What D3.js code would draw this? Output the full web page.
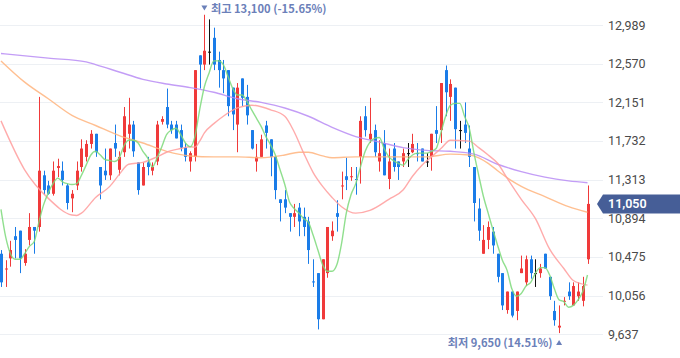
<!DOCTYPE html>
<html><head><meta charset="utf-8">
<script src="https://cdn.jsdelivr.net/npm/d3@7"></script>
<style>body{margin:0;background:#fff;} svg{display:block;}</style>
</head><body><svg id="c" width="680" height="358"></svg>
<script>
const opens = [10510,10340,10460,10700,10760,10410,10660,10800,10800,11360,
11250,11160,11440,11410,11250,11110,11250,11450,11560,11700,
11810,11450,11410,11360,11710,11420,11610,11810,11910,11500,
11250,11500,11410,11510,11940,12100,11910,11910,11850,11660,
11510,11560,12660,12560,12700,12850,12610,12500,12500,12310,
11910,12410,12210,11850,11510,11560,11900,11750,11560,11100,
11100,10950,10910,11010,10910,10860,10210,10300,9800,10300,
10700,10950,11240,11350,11340,11320,11560,12000,11750,11850,
11510,11710,11320,11650,11510,11510,11600,11610,11600,11650,
11510,11560,11850,11850,12500,12210,12310,11850,11910,11650,
11450,11000,10510,10660,10750,10510,10300,9900,10100,9890,
10300,10200,10450,10300,10300,10510,10260,9890,9710,9990,
10100,9950,10050,10000,10450];
const highs = [10550,10440,10650,10800,10760,10560,10950,10800,12210,11410,
11300,11510,11540,11510,11270,11200,11510,11750,11740,11850,
11810,11450,11650,11650,11910,11620,12100,12200,11950,11500,
11500,11560,11500,11950,12000,12300,11950,11950,11910,11710,
11620,12500,12660,13100,13050,12960,12700,12610,12500,12310,
12360,12410,12340,11850,11700,11800,11950,11750,11560,11100,
11200,10950,11050,11060,11010,10910,10450,10300,10450,10800,
10860,11090,11400,11550,11450,11450,12000,12110,12200,11910,
11740,11850,11650,11710,11510,11650,11710,11810,11710,11650,
11600,11810,12110,12360,12550,12400,12310,11950,12150,11900,
11450,11110,10820,10860,10800,10510,10300,10100,10100,10100,
10490,10490,10490,10450,10400,10510,10260,10000,9950,10040,
10200,10200,10200,10260,11250];
const lows = [10150,10150,10370,10460,10300,10380,10600,10510,10750,11150,
11150,11140,11340,11250,10990,10960,11200,11400,11510,11650,
11560,11100,11310,11310,11560,11360,11560,11650,11560,11150,
11250,11360,11360,11470,11910,11870,11810,11760,11620,11510,
11400,11510,12300,12500,12560,12500,12310,12250,12000,11850,
11610,12110,11910,11640,11400,11560,11650,11350,11100,10860,
10950,10750,10800,10700,10700,10400,10150,9690,9800,10250,
10650,10750,11100,11200,11300,11150,11270,11780,11710,11560,
11400,11360,11210,11400,11310,11450,11450,11600,11510,11510,
11450,11410,11710,11710,12000,11950,11650,11650,11710,11450,
10860,10650,10510,10560,10510,10200,9900,9860,9820,9790,
10300,10160,10240,10150,10250,10350,10010,9730,9650,9950,
10010,9950,10000,9940,10400];
const closes = [10200,10350,10550,10660,10460,10510,10800,10760,11410,11200,
11160,11410,11460,11310,11060,11160,11410,11650,11700,11810,
11610,11250,11360,11650,11650,11560,12000,11910,11620,11200,
11450,11450,11450,11910,11970,11910,11850,11760,11660,11560,
11600,12500,12560,12710,12700,12560,12500,12410,12110,12020,
12310,12200,12010,11650,11560,11750,11820,11560,11200,11060,
11010,10910,10950,10860,10800,10550,10200,9800,10450,10800,
10760,10910,11250,11310,11350,11310,11950,11850,11810,11610,
11600,11360,11510,11450,11450,11600,11600,11700,11590,11510,
11510,11810,11810,12360,12260,12350,11860,11850,11820,11560,
11060,10760,10660,10800,10600,10260,9950,10100,9840,10100,
10350,10450,10300,10300,10350,10350,10050,9790,9730,10000,
10050,10160,10100,10160,11050];

// moving averages
const ma5 = [10990,10690,10510,10450,10450,10510,10590,10640,10850,11040,
11170,11270,11330,11290,11270,11260,11270,11360,11470,11580,
11620,11580,11530,11520,11510,11550,11680,11740,11740,11710,
11620,11550,11450,11550,11670,11800,11850,11870,11800,11710,
11670,11780,12070,12320,12470,12600,12600,12560,12430,12300,
12230,12230,12160,12070,11980,11890,11780,11690,11580,11420,
11260,11070,11000,10950,10890,10850,10710,10550,10390,10320,
10320,10390,10620,10950,11150,11270,11450,11620,11720,11760,
11770,11650,11560,11520,11490,11470,11530,11580,11600,11600,
11600,11620,11650,11820,12000,12120,12140,12140,12000,11870,
11600,11360,11130,10950,10770,10600,10440,10330,10130,10050,
10080,10160,10200,10300,10360,10360,10280,10130,10010,9990,
9930,9950,10010,10100,10280];
const ma20 = [[0,11950],[5,11420],[10,11110],[15,10930],[16,10925],[17,10950],[20,11120],[23,11240],[25,11370],[27,11480],[30,11500],[33,11560],[35,11610],[38,11650],[40,11670],[41,11665],[42,11730],[43,11820],[45,11920],[47,12000],[50,12090],[53,12120],[57,12070],[60,12000],[62,11830],[64,11600],[66,11390],[68,11240],[70,11120],[72,11020],[75,10950],[78,10980],[82,11100],[85,11200],[87,11350],[89,11470],[91,11560],[93,11650],[95,11740],[99,11730],[101,11660],[103,11580],[105,11490],[107,11330],[110,11100],[113,10890],[116,10560],[119,10350],[121,10220],[124,10170]];
const ma60 = [[0,12600],[5,12370],[10,12190],[15,12010],[20,11900],[25,11790],[30,11710],[35,11620],[40,11570],[45,11560],[50,11560],[55,11550],[60,11580],[63,11610],[65,11610],[68,11570],[70,11550],[75,11560],[80,11560],[85,11560],[90,11560],[95,11590],[99,11580],[101,11550],[103,11490],[105,11410],[108,11300],[110,11240],[115,11130],[120,11020],[124,10960]];
const ma120 = [[0,12680],[10,12630],[18,12590],[20,12560],[25,12480],[30,12400],[35,12350],[40,12310],[45,12260],[50,12190],[55,12150],[60,12090],[65,12000],[70,11880],[75,11780],[80,11720],[85,11660],[90,11630],[95,11620],[100,11590],[105,11480],[110,11400],[115,11340],[120,11300],[124,11280]];

const yTicks = [9637,10056,10475,10894,11313,11732,12151,12570,12989];
const lastPrice = 11050;
const highText = "최고";
const lowText = "최저";

const svg = d3.select("#c");
const n = closes.length;
const x = d3.scaleLinear().domain([0, n - 1]).range([1, 587.5]);
const y = d3.scaleLinear().domain([9637, 12989]).range([334.3, 25]);
const fmt = d3.format(",");

// grid
svg.append("g").selectAll("line").data(yTicks).join("line")
  .attr("x1", 0).attr("x2", 603)
  .attr("y1", d => Math.round(y(d)) + 0.5).attr("y2", d => Math.round(y(d)) + 0.5)
  .attr("stroke", "#edf0f4").attr("stroke-width", 1);

// y axis labels
const axis = d3.axisRight(y).tickValues(yTicks).tickFormat(fmt).tickSize(0).tickPadding(0);
const ag = svg.append("g").attr("transform", "translate(608,0)").call(axis);
ag.select(".domain").remove();
ag.selectAll("text").attr("fill", "#4a4a4a").attr("font-size", "12.5px")
  .attr("font-family", "Roboto, 'Liberation Sans', sans-serif");

// candles
const idx = d3.range(n);
const col = i => closes[i] > opens[i] ? "#f03a3a" : closes[i] < opens[i] ? "#1a7ce8" : "#111";
const cg = svg.append("g");
cg.selectAll("line").data(idx).join("line")
  .attr("x1", i => Math.round(x(i)) + 0.5).attr("x2", i => Math.round(x(i)) + 0.5)
  .attr("y1", i => y(highs[i])).attr("y2", i => y(lows[i]))
  .attr("stroke", col).attr("stroke-width", 1);
cg.selectAll("rect").data(idx).join("rect")
  .attr("x", i => Math.round(x(i)) - 1)
  .attr("width", 3)
  .attr("y", i => y(Math.max(opens[i], closes[i])))
  .attr("height", i => Math.max(1, Math.abs(y(opens[i]) - y(closes[i]))))
  .attr("fill", col);

// moving averages
const lineIdx = d3.line().x((d, i) => x(i)).y(d => y(d)).curve(d3.curveMonotoneX);
const linePair = d3.line().x(d => x(d[0])).y(d => y(d[1])).curve(d3.curveMonotoneX);
const mg = svg.append("g").attr("fill", "none").attr("stroke-width", 1.4)
  .attr("stroke-linejoin", "round").attr("stroke-opacity", 0.85);
mg.append("path").attr("d", linePair(ma120)).attr("stroke", "#b88cf5");
mg.append("path").attr("d", linePair(ma60)).attr("stroke", "#ffb47e");
mg.append("path").attr("d", linePair(ma20)).attr("stroke", "#ff9c9c");
mg.append("path").attr("d", lineIdx(ma5)).attr("stroke", "#7cd97a");

// high / low markers
const hiI = d3.maxIndex(highs), loI = d3.minIndex(lows);
const hi = highs[hiI], lo = lows[loI];
const labColor = "#6b80b9";
const lf = "'Noto Sans CJK KR', Roboto, sans-serif";
const hx = x(hiI);
svg.append("path").attr("d", `M${hx - 3},5.5 L${hx + 3},5.5 L${hx},10.5 Z`).attr("fill", labColor);
svg.append("text").attr("x", hx + 6.5).attr("y", 13).attr("fill", labColor)
  .attr("font-size", "11.2px").attr("font-weight", 600).attr("font-family", lf)
  .text(`${highText} ${fmt(hi)} (${((lastPrice - hi) / hi * 100).toFixed(2)}%)`);
const lx = x(loI);
svg.append("path").attr("d", `M${lx - 3},345 L${lx + 3},345 L${lx},340 Z`).attr("fill", labColor);
svg.append("text").attr("x", lx - 6.5).attr("y", 347).attr("text-anchor", "end").attr("fill", labColor)
  .attr("font-size", "11.2px").attr("font-weight", 600).attr("font-family", lf)
  .text(`${lowText} ${fmt(lo)} (${((lastPrice - lo) / lo * 100).toFixed(2)}%)`);

// last price tag
const py = y(lastPrice);
svg.append("path")
  .attr("d", `M597,${py} L603,${py - 9.5} L680,${py - 9.5} L680,${py + 9.5} L603,${py + 9.5} Z`)
  .attr("fill", "#465e97");
svg.append("text").attr("x", 608).attr("y", py).attr("dy", "0.36em").attr("fill", "#fff")
  .attr("font-size", "12.5px").attr("font-weight", 600)
  .attr("font-family", "Roboto, 'Liberation Sans', sans-serif")
  .text(fmt(lastPrice));
</script>
</body></html>
